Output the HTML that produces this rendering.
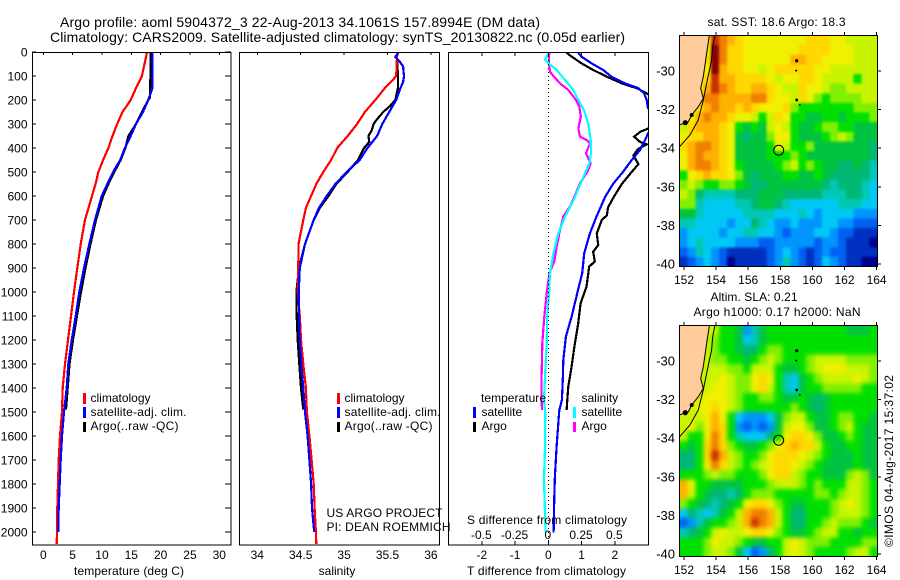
<!DOCTYPE html>
<html>
<head>
<meta charset="utf-8">
<title>Argo profile</title>
<style>
html,body{margin:0;padding:0;background:#fff;width:900px;height:580px;overflow:hidden}
svg{display:block}
text{font-family:"Liberation Sans",sans-serif;font-size:12px;fill:#000}
.t14{font-size:14px}
.frame{fill:none;stroke:#000;stroke-width:1.4;shape-rendering:crispEdges}
.ln{fill:none;stroke-width:2.2;stroke-linejoin:miter;shape-rendering:crispEdges}
.tick{stroke:#000;stroke-width:1;shape-rendering:crispEdges}
</style>
</head>
<body>
<svg id="fig" xmlns="http://www.w3.org/2000/svg" width="900" height="580" viewBox="0 0 900 580">
<rect x="0" y="0" width="900" height="580" fill="#fff"/>
<defs>
<clipPath id="clipT"><rect x="32.5" y="52" width="198.5" height="493"/></clipPath>
<clipPath id="clipS"><rect x="239.5" y="52" width="200" height="493"/></clipPath>
<clipPath id="clipD"><rect x="448.5" y="52" width="200" height="493"/></clipPath>
<clipPath id="clipM1"><rect x="679.5" y="35.5" width="198" height="231"/></clipPath>
<clipPath id="clipM2"><rect x="679.5" y="325.5" width="198" height="231"/></clipPath>
<filter id="blurSst" filterUnits="userSpaceOnUse" x="650" y="10" width="260" height="290" color-interpolation-filters="sRGB"><feGaussianBlur stdDeviation="1.2"/></filter>
<filter id="blurSla" filterUnits="userSpaceOnUse" x="650" y="300" width="260" height="290" color-interpolation-filters="sRGB"><feGaussianBlur stdDeviation="2.2"/></filter>
</defs>
<text class="t14" x="60" y="27" textLength="480" lengthAdjust="spacing">Argo profile: aoml 5904372_3 22-Aug-2013 34.1061S 157.8994E (DM data)</text>
<text class="t14" x="50" y="42" textLength="575" lengthAdjust="spacing">Climatology: CARS2009. Satellite-adjusted climatology: synTS_20130822.nc (0.05d earlier)</text>
<g id="plots"></g>
<g id="maps"></g>
<rect class="frame" x="32.5" y="52.5" width="198.5" height="492.5"/>
<rect class="frame" x="239.5" y="52.5" width="200" height="492.5"/>
<rect class="frame" x="448.5" y="52.5" width="200" height="492.5"/>
<rect class="frame" x="679.5" y="35.5" width="198" height="231"/>
<rect class="frame" x="679.5" y="325.5" width="198" height="231"/>

<text x="129" y="575" text-anchor="middle" textLength="110">temperature (deg C)</text>
<text x="337" y="575" text-anchor="middle">salinity</text>
<text x="467" y="575" textLength="159">T difference from climatology</text>
<text x="467" y="524" textLength="160">S difference from climatology</text>

<g>
<rect x="83" y="393" width="3" height="11" fill="#ff0000"/>
<rect x="83" y="407" width="3" height="11" fill="#0000ff"/>
<rect x="83" y="422" width="3" height="10" fill="#000"/>
<text x="90.5" y="402">climatology</text>
<text x="90.5" y="416" textLength="96">satellite-adj. clim.</text>
<text x="90.5" y="430" textLength="88">Argo(..raw -QC)</text>
</g>
<g>
<rect x="337" y="393" width="3" height="11" fill="#ff0000"/>
<rect x="337" y="407" width="3" height="11" fill="#0000ff"/>
<rect x="337" y="422" width="3" height="10" fill="#000"/>
<text x="344.5" y="402">climatology</text>
<text x="344.5" y="416" textLength="96">satellite-adj. clim.</text>
<text x="344.5" y="430" textLength="88">Argo(..raw -QC)</text>
</g>
<g>
<text x="481" y="402" textLength="65">temperature</text>
<text x="581.5" y="402">salinity</text>
<rect x="473" y="407" width="3" height="11" fill="#0000ff"/>
<rect x="473" y="422" width="3" height="10" fill="#000"/>
<rect x="573" y="407" width="3" height="11" fill="#00ffff"/>
<rect x="573" y="422" width="3" height="10" fill="#ff00ff"/>
<text x="481.5" y="416">satellite</text>
<text x="481.5" y="430">Argo</text>
<text x="581.5" y="416">satellite</text>
<text x="581.5" y="430">Argo</text>
</g>
<text x="326.5" y="517" textLength="116">US ARGO PROJECT</text>
<text x="326.5" y="531" textLength="124">PI: DEAN ROEMMICH</text>

<text x="776.5" y="26" text-anchor="middle" textLength="138">sat. SST: 18.6 Argo: 18.3</text>
<text x="754" y="301" text-anchor="middle" textLength="87">Altim. SLA: 0.21</text>
<text x="777" y="316" text-anchor="middle" textLength="167">Argo h1000: 0.17 h2000: NaN</text>
<text transform="translate(893,547) rotate(-90)" textLength="172">©IMOS 04-Aug-2017 15:37:02</text>
</svg>
<script>
// ---------- profile data ----------
var tempTicks = [0, 5, 10, 15, 20, 25, 30];
var salTicks = [34, 34.5, 35, 35.5, 36];
var depthTicks = [0, 100, 200, 300, 400, 500, 600, 700, 800, 900, 1000, 1100, 1200, 1300, 1400, 1500, 1600, 1700, 1800, 1900, 2000];
var tDiffTicks = [-2, -1, 0, 1, 2];
var sDiffTicks = [-0.5, -0.25, 0, 0.25, 0.5];
var sDiffLabels = ['-0.5', '-0.25', '0', '0.25', '0.5'];
var tempSalDepths = [0, 100, 150, 200, 250, 300, 350, 400, 450, 500, 550, 600, 700, 800, 900, 1000, 1100, 1200, 1300, 1400, 1500, 1600, 1700, 1800, 1900, 2000, 2050];
var tempClim = [17.7, 16.8, 15.8, 14.9, 13.5, 12.6, 11.8, 11.1, 10.2, 9.4, 8.9, 8.3, 7.1, 6.37, 5.8, 5.23, 4.72, 4.21, 3.7, 3.31, 3.19, 2.85, 2.62, 2.5, 2.39, 2.33, 2.28];
var tempSatDepths = [0, 150, 200, 250, 300, 350, 400, 450, 500, 550, 600, 700, 800, 900, 1000, 1100, 1200, 1300, 1400, 1500, 1600, 1700, 1800, 1900, 2000];
var tempSat = [18.6, 18.6, 17.9, 17.0, 15.8, 14.9, 13.9, 13.1, 11.9, 10.9, 9.95, 8.81, 7.84, 6.94, 6.14, 5.52, 4.84, 4.26, 3.99, 3.53, 3.19, 2.97, 2.8, 2.62, 2.56];
var tempArgoDepths = [0, 100, 190, 200, 250, 300, 350, 400, 450, 500, 550, 600, 700, 800, 900, 1000, 1100, 1200, 1300, 1400, 1490];
var tempArgo = [18.3, 18.25, 18.2, 17.9, 16.8, 15.8, 14.5, 14.0, 13.2, 12.1, 11.1, 10.2, 8.98, 8.05, 7.2, 6.43, 5.74, 5.06, 4.47, 4.16, 3.87];

var salClimDepths = [0, 20, 100, 117, 150, 200, 250, 300, 350, 400, 450, 500, 550, 600, 650, 700, 800, 900, 1000, 1100, 1200, 1300, 1400, 1500, 1600, 1700, 1800, 1900, 2000, 2050];
var salClim = [35.62, 35.61, 35.60, 35.56, 35.47, 35.36, 35.24, 35.15, 35.04, 34.92, 34.85, 34.76, 34.68, 34.62, 34.56, 34.53, 34.475, 34.472, 34.465, 34.49, 34.503, 34.53, 34.56, 34.572, 34.6, 34.625, 34.65, 34.66, 34.675, 34.68];
var salSatDepths = [0, 20, 40, 60, 100, 125, 150, 200, 225, 250, 300, 350, 400, 450, 500, 550, 600, 650, 700, 800, 900, 1000, 1100, 1200, 1300, 1400, 1500, 1600, 1700, 1800, 1900, 2000];
var salSat = [35.63, 35.59, 35.64, 35.68, 35.69, 35.68, 35.65, 35.60, 35.56, 35.52, 35.44, 35.38, 35.27, 35.18, 35.03, 34.90, 34.80, 34.71, 34.65, 34.55, 34.49, 34.477, 34.48, 34.488, 34.507, 34.53, 34.55, 34.58, 34.6, 34.62, 34.63, 34.655];
var salArgoDepths = [0, 20, 100, 150, 200, 225, 250, 280, 300, 325, 350, 375, 400, 450, 500, 550, 600, 650, 700, 800, 900, 1000, 1100, 1200, 1300, 1400, 1490];
var salArgo = [35.62, 35.61, 35.62, 35.62, 35.59, 35.53, 35.45, 35.38, 35.34, 35.32, 35.28, 35.29, 35.23, 35.16, 35.04, 34.91, 34.82, 34.72, 34.65, 34.55, 34.48, 34.45, 34.454, 34.465, 34.484, 34.503, 34.53];

var dTSatDepths = [3, 19, 47, 75, 103, 131, 151, 172, 200, 235, 285, 339, 367, 408, 450, 506, 547, 603, 686, 756, 839, 922, 1006, 1103, 1186, 1283, 1353, 1450, 1492, 1547, 1644, 1769, 1853, 2003];
var dTSat = [0.90, 1.0, 1.3, 1.65, 1.9, 2.31, 2.71, 2.88, 2.96, 3.0, 3.4, 3.0, 2.91, 2.76, 2.51, 2.21, 1.96, 1.71, 1.45, 1.25, 1.08, 1.02, 0.87, 0.70, 0.53, 0.45, 0.44, 0.41, 0.33, 0.30, 0.25, 0.20, 0.18, 0.16];
var dTArgoDepths = [3, 19, 47, 75, 103, 131, 151, 172, 179, 250, 319, 333, 353, 375, 385, 403, 431, 467, 508, 550, 606, 647, 681, 700, 756, 804, 832, 873, 894, 978, 1047, 1131, 1214, 1311, 1394, 1450, 1492];
var dTArgo = [0.55, 0.7, 1.0, 1.35, 1.76, 2.21, 2.66, 2.96, 3.02, 3.5, 3.0, 2.76, 2.58, 2.76, 2.96, 2.71, 2.56, 2.71, 2.46, 2.21, 1.96, 1.80, 1.76, 1.61, 1.46, 1.50, 1.35, 1.40, 1.23, 1.15, 0.97, 0.90, 0.80, 0.70, 0.60, 0.57, 0.55];
var dSSatDepths = [3, 31, 47, 75, 117, 158, 200, 242, 297, 367, 422, 464, 506, 561, 617, 686, 756, 839, 922, 1006, 1103, 1214, 1353, 1450, 1506, 1644, 1783, 1922, 2003];
var dSSat = [0.005, -0.025, 0, 0.063, 0.126, 0.188, 0.226, 0.268, 0.30, 0.319, 0.321, 0.308, 0.276, 0.233, 0.19, 0.126, 0.075, 0.038, 0.013, 0.005, -0.008, -0.012, -0.025, -0.032, -0.023, -0.025, -0.032, -0.025, -0.02];
var dSArgoDepths = [3, 47, 82, 103, 131, 158, 200, 228, 269, 319, 353, 367, 381, 422, 464, 500, 547, 603, 644, 686, 756, 811, 873, 922, 1006, 1103, 1214, 1353, 1450, 1492];
var dSArgo = [0.007, 0.005, 0.013, 0.043, 0.088, 0.15, 0.208, 0.233, 0.244, 0.226, 0.238, 0.289, 0.314, 0.283, 0.319, 0.293, 0.238, 0.196, 0.163, 0.113, 0.083, 0.063, 0.045, 0.008, -0.012, -0.03, -0.045, -0.05, -0.05, -0.047];

// ---------- map data (colour-scale levels) ----------
var lonTicks = [152, 154, 156, 158, 160, 162, 164];
var latTicks = [-30, -32, -34, -36, -38, -40];
var rampColors = ['#00008c', '#0030c0', '#0060f0', '#0094ff', '#00c8f4', '#00c8b4', '#00b874', '#00c440', '#00e000', '#80f000', '#c8f400', '#f0f000', '#ffd800', '#ffb000', '#f08000', '#c83000', '#8b0000'];
var sstGrid = [
[11,11,11,11,15,14,13,12,11,11,11,11,11,11,11,11,12,12,12,11,11,10,10,10,10],
[11,11,11,11,16,14,12,12,11,11,11,11,11,11,11,12,12,12,12,11,11,11,10,10,10],
[11,11,11,12,16,14,12,12,11,11,11,11,11,11,13,13,12,12,11,11,11,11,10,10,10],
[11,11,11,11,16,13,12,12,11,11,10,11,12,12,12,12,12,11,11,10,10,10,10,10,10],
[11,11,11,12,15,13,13,12,12,12,12,11,10,11,11,12,12,11,10,10,10,10,8,10,10],
[11,11,11,13,15,14,13,12,12,13,13,12,11,10,10,12,11,11,10,9,9,10,10,10,10],
[11,11,11,14,14,13,13,13,13,14,14,12,11,11,10,12,11,9,8,9,9,9,9,10,10],
[11,11,12,13,14,13,13,12,13,12,11,11,11,12,9,8,8,8,8,8,8,8,9,9,9],
[11,11,13,14,13,13,12,11,11,10,8,10,12,11,8,8,7,7,8,8,7,8,8,8,9],
[10,12,13,13,13,12,11,8,7,8,7,10,11,10,8,7,7,8,9,9,8,8,7,7,7],
[11,12,12,13,13,12,11,7,6,7,7,9,11,11,8,7,7,7,8,9,10,9,7,7,7],
[12,13,14,14,13,12,11,7,7,7,7,8,11,10,8,8,9,7,7,7,7,7,7,7,6],
[11,13,14,13,13,12,11,7,7,7,7,8,8,8,9,8,7,7,7,7,7,7,7,7,6],
[11,13,14,14,13,12,11,8,7,7,7,7,8,9,10,8,9,8,7,7,6,6,7,6,5],
[8,11,12,13,12,12,11,9,7,6,7,7,7,8,8,7,7,8,7,6,6,6,6,6,5],
[9,10,9,8,8,9,9,8,7,6,6,7,7,7,7,7,7,7,6,5,6,6,6,5,4],
[10,9,6,5,5,5,5,6,6,6,7,7,7,6,6,6,6,6,5,5,5,6,6,5,4],
[9,9,5,4,4,4,4,5,5,6,7,7,6,5,4,4,4,4,4,4,5,5,5,4,4],
[7,7,5,4,4,4,4,4,5,5,5,5,4,4,4,5,4,3,4,4,4,4,3,3,3],
[5,5,4,4,4,4,3,4,4,6,5,4,3,3,4,3,3,3,4,4,3,3,2,2,2],
[3,4,4,4,4,3,4,4,5,5,4,4,3,2,3,3,3,4,4,3,2,2,1,1,1],
[3,4,5,4,4,4,4,3,3,3,2,2,3,3,3,3,3,2,3,3,2,1,1,1,0],
[2,3,5,4,3,2,1,1,1,1,1,2,3,4,3,2,1,2,3,2,2,1,1,1,1],
[1,2,3,4,3,2,0,1,1,1,1,2,3,5,3,2,1,2,4,3,2,1,1,0,0]
];
var slaGrid = [
[10,10,10,10,10,8,8,7,3,5,7,8,8,8,8,8,8,8,8,8,8,7,7,7,8],
[10,10,10,10,9,8,8,7,4,5,7,8,8,8,8,8,8,8,8,8,8,8,8,8,8],
[10,10,10,10,9,8,8,7,6,6,8,9,9,8,8,8,8,8,8,8,8,8,8,8,8],
[10,10,10,10,9,9,8,8,7,8,9,10,9,8,8,8,9,10,10,10,10,9,9,9,9],
[10,10,10,10,10,10,9,9,8,10,10,10,8,7,7,8,9,10,11,11,11,10,10,10,9],
[10,10,10,10,10,11,10,9,9,11,12,11,8,5,4,7,8,9,10,10,10,10,11,10,9],
[10,10,10,10,11,11,10,9,9,11,12,10,8,5,4,7,8,8,9,9,9,9,9,8,8],
[10,10,10,11,11,11,10,9,8,8,9,9,8,7,7,8,7,6,7,8,8,8,8,8,8],
[10,10,11,11,12,11,10,9,8,8,8,8,8,8,9,8,7,6,7,8,8,8,8,8,8],
[10,10,10,11,13,11,8,4,3,3,3,4,7,9,10,10,8,7,7,8,9,9,8,8,7],
[10,11,9,11,13,12,8,3,2,3,2,3,7,10,11,11,9,7,7,8,9,10,8,7,7],
[10,8,8,11,14,12,8,5,4,4,4,6,8,11,12,12,11,9,7,7,8,9,8,7,7],
[8,7,8,12,14,12,9,8,7,7,8,9,11,12,13,12,12,10,8,7,7,8,8,7,7],
[6,6,8,12,15,13,10,9,8,8,9,11,12,12,12,11,10,9,8,7,7,7,8,7,7],
[6,6,8,11,14,12,10,9,8,9,10,11,12,12,11,10,9,8,7,7,7,7,8,7,7],
[8,8,8,9,10,9,9,8,8,8,9,11,12,12,10,9,8,8,7,7,7,9,10,9,7],
[13,11,8,8,7,7,7,7,8,8,8,9,10,10,10,9,8,9,8,8,8,10,10,9,8],
[13,10,8,7,6,6,5,6,8,9,9,9,8,8,8,8,8,9,9,8,9,10,10,9,8],
[9,8,7,6,5,6,7,8,11,12,12,11,9,8,7,7,8,8,8,9,10,11,10,9,8],
[4,6,5,4,5,7,8,10,13,14,14,13,10,8,6,6,8,8,8,9,10,10,10,9,8],
[2,3,5,7,8,8,9,10,13,15,14,13,10,8,6,6,8,8,9,10,9,9,9,8,7],
[5,6,7,8,10,11,10,10,11,12,12,11,9,8,7,7,8,9,10,10,8,8,7,8,8],
[8,8,8,9,11,10,10,9,8,7,7,8,8,10,11,10,9,9,9,8,8,8,8,9,9],
[8,8,8,9,10,10,9,7,4,2,3,6,8,10,11,10,9,8,8,8,8,9,10,10,8]
];
var coastLons = [153.58, 153.52, 153.35, 153.2, 153.04, 153.2, 152.89, 152.48, 152.27, 151.7, 151.7];
var coastLats = [-28.15, -28.48, -29.43, -30.29, -30.9, -31.42, -31.85, -32.28, -32.63, -32.8, -28.15];
var shelfLons = [153.93, 153.79, 153.72, 153.45, 153.2, 152.89, 152.37, 151.7];
var shelfLats = [-28.15, -28.74, -29.43, -30.47, -31.5, -32.54, -33.32, -33.95];
var islandLons = [159.02, 158.99, 159.02, 159.22, 152.48, 152.08];
var islandLats = [-29.47, -29.98, -31.5, -31.75, -32.28, -32.68];
var islandSizes = [1.6, 1, 1.4, 0.8, 2, 2.6];
var profileLon = 157.8994;
var profileLat = -34.1061;

// ---------- axis functions ----------
var NS = 'http://www.w3.org/2000/svg';
var plots = document.getElementById('plots');
var maps = document.getElementById('maps');
function yDepth(d) { return 52 + d * 0.24; }
function xTemp(t) { return 43.3 + t * 5.867; }
function xSal(s) { return 257.3 + (s - 34) * 86.8; }
function xDT(v) { return 548.3 + v * 33.25; }
function xDS(v) { return 548.3 + v * 133; }
function xLon(lon) { return 684 + (lon - 152) * 16.05; }
function yLat(lat) { return 71 + (-30 - lat) * 19.3; }
function colorOf(v) { return rampColors[Math.max(0, Math.min(rampColors.length - 1, Math.round(v)))]; }

function make(tag, attrs, parent) {
  var e = document.createElementNS(NS, tag);
  for (var k in attrs) { e.setAttribute(k, attrs[k]); }
  parent.appendChild(e);
  return e;
}
function series(name, xs, ys, xf, color, clip) {
  var pts = xs.map(function (v, i) { return xf(v).toFixed(1) + ',' + yDepth(ys[i]).toFixed(1); }).join(' ');
  var el = make('polyline', { points: pts, 'class': 'ln', stroke: color, 'clip-path': 'url(#' + clip + ')' }, plots);
  
  
}
function tick(parent, x1, y1, x2, y2, name) {
  var el = make('line', { x1: x1, y1: y1, x2: x2, y2: y2, 'class': 'tick' }, parent);
  
  
}
function label(parent, x, y, str, anchor, name) {
  var el = make('text', { x: x, y: y, 'text-anchor': anchor }, parent);
  el.textContent = str;
  
  
  return el;
}

// ---------- profile series ----------
series('temperature-argo-line', tempArgo, tempArgoDepths, xTemp, '#000', 'clipT');
series('temperature-climatology-line', tempClim, tempSalDepths, xTemp, '#ff0000', 'clipT');
series('temperature-satellite-line', tempSat, tempSatDepths, xTemp, '#0000ff', 'clipT');
series('salinity-argo-line', salArgo, salArgoDepths, xSal, '#000', 'clipS');
series('salinity-climatology-line', salClim, salClimDepths, xSal, '#ff0000', 'clipS');
series('salinity-satellite-line', salSat, salSatDepths, xSal, '#0000ff', 'clipS');
series('t-difference-argo-line', dTArgo, dTArgoDepths, xDT, '#000', 'clipD');
series('t-difference-satellite-line', dTSat, dTSatDepths, xDT, '#0000ff', 'clipD');
series('s-difference-argo-line', dSArgo, dSArgoDepths, xDS, '#ff00ff', 'clipD');
series('s-difference-satellite-line', dSSat, dSSatDepths, xDS, '#00ffff', 'clipD');

var zeroLine = make('line', { x1: xDT(0), y1: 52, x2: xDT(0), y2: 545, stroke: '#000', 'stroke-width': 1, 'stroke-dasharray': '1 3', 'shape-rendering': 'crispEdges' }, plots);



// ---------- profile ticks ----------
depthTicks.forEach(function (d) {
  var y = yDepth(d);
  tick(plots, 32, y, 36, y, 'depth-tick-left');
  tick(plots, 225, y, 231, y, 'depth-tick-right');
  label(plots, 27.5, y + 4.5, String(d), 'end', 'depth-tick-label');
});
tempTicks.forEach(function (t) {
  tick(plots, xTemp(t), 52, xTemp(t), 55, 'temperature-tick');
  label(plots, xTemp(t), 559, String(t), 'middle', 'temperature-tick-label');
});
salTicks.forEach(function (s) {
  tick(plots, xSal(s), 52, xSal(s), 55, 'salinity-tick');
  label(plots, xSal(s), 559, String(s), 'middle', 'salinity-tick-label');
});
tDiffTicks.forEach(function (v) {
  tick(plots, xDT(v), 52, xDT(v), 56, 'difference-top-tick');
  tick(plots, xDT(v), 541, xDT(v), 545, 'difference-bottom-tick');
  label(plots, xDT(v), 559, String(v), 'middle', 't-difference-tick-label');
});
sDiffTicks.forEach(function (v, i) {
  label(plots, xDS(v) - 0.5, 539, sDiffLabels[i], 'middle', 's-difference-tick-label');
});

// ---------- maps ----------
var cellW = 198 / 25;
var cellH = 231 / 24;
var bleed = 12;
function drawMap(prefix, grid, dy, clip, blurId) {
  var g = make('g', { 'clip-path': 'url(#' + clip + ')' }, maps);
  
  
  var field = make('g', { filter: 'url(#' + blurId + ')' }, g);
  
  
  for (var r = 0; r < grid.length; r++) {
    for (var c = 0; c < grid[r].length; c++) {
      var x0 = 679.5 + c * cellW - (c === 0 ? bleed : 0);
      var x1 = 679.5 + (c + 1) * cellW + (c === grid[r].length - 1 ? bleed : 0.4);
      var y0 = 35.5 + dy + r * cellH - (r === 0 ? bleed : 0);
      var y1 = 35.5 + dy + (r + 1) * cellH + (r === grid.length - 1 ? bleed : 0.4);
      var cell = make('rect', {
        x: x0.toFixed(2),
        y: y0.toFixed(2),
        width: (x1 - x0).toFixed(2),
        height: (y1 - y0).toFixed(2),
        fill: colorOf(grid[r][c]),
        'shape-rendering': 'crispEdges'
      }, field);
      
      
    }
  }
  var landPts = coastLons.map(function (lon, i) { return xLon(lon).toFixed(1) + ',' + (yLat(coastLats[i]) + dy).toFixed(1); }).join(' ');
  var land = make('polygon', { points: landPts, fill: '#ffcc99', stroke: '#000', 'stroke-width': 1 }, g);
  
  
  var shelfPts = shelfLons.map(function (lon, i) { return xLon(lon).toFixed(1) + ',' + (yLat(shelfLats[i]) + dy).toFixed(1); }).join(' ');
  var shelf = make('polyline', { points: shelfPts, fill: 'none', stroke: '#000', 'stroke-width': 1 }, g);
  
  
  islandLons.forEach(function (lon, i) {
    var isl = make('circle', { cx: xLon(lon), cy: yLat(islandLats[i]) + dy, r: islandSizes[i], fill: '#000' }, g);
    
    
  });
  var marker = make('circle', { cx: xLon(profileLon), cy: yLat(profileLat) + dy, r: 5, fill: 'none', stroke: '#000', 'stroke-width': 1 }, g);
  
  
  lonTicks.forEach(function (lon) {
    tick(maps, xLon(lon), 32 + dy, xLon(lon), 35.5 + dy, 'longitude-tick-top');
    tick(maps, xLon(lon), 266.5 + dy, xLon(lon), 270 + dy, 'longitude-tick-bottom');
    label(maps, xLon(lon), 284 + dy, String(lon), 'middle', 'longitude-tick-label');
  });
  latTicks.forEach(function (lat) {
    tick(maps, 877.5, yLat(lat) + dy, 881, yLat(lat) + dy, 'latitude-tick');
    var latLabel = label(maps, 675, yLat(lat) + dy + 4.5, String(lat), 'end', 'latitude-tick-label');
    latLabel.style.fontSize = '13px';
  });
}
drawMap('sst', sstGrid, 0, 'clipM1', 'blurSst');
drawMap('sla', slaGrid, 290, 'clipM2', 'blurSla');
</script>
</body>
</html>
